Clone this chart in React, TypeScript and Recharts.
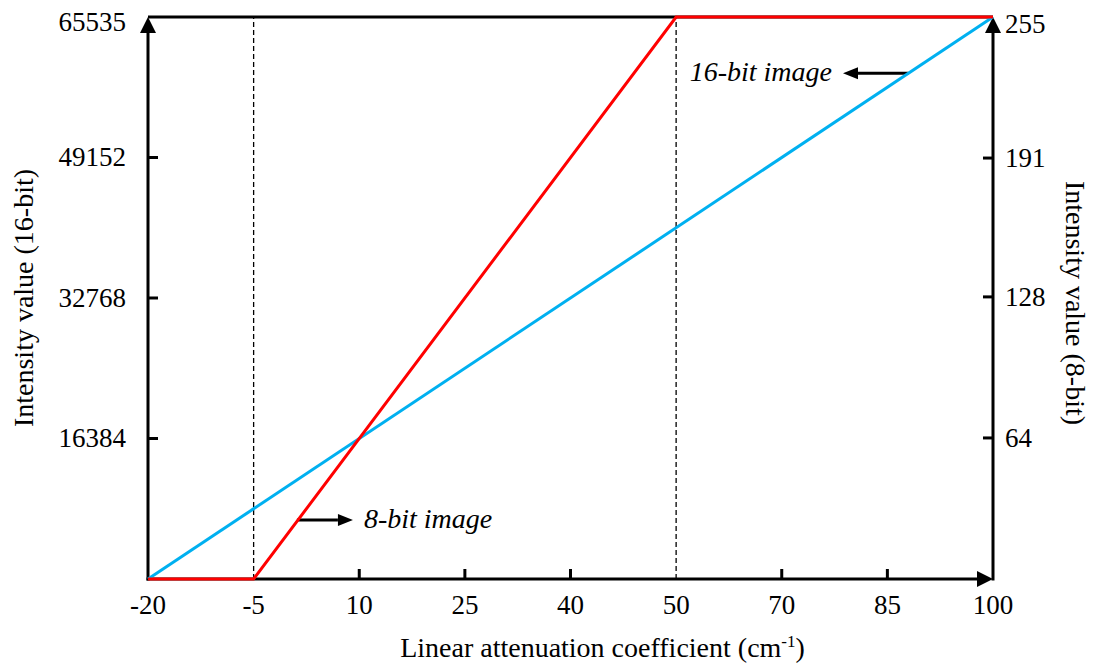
import { Line, LineChart, ReferenceLine, XAxis, YAxis } from 'recharts';

// x tick labels are placed at equal spacing, so points are drawn against their tick index
const xLabels = [-20, -5, 10, 25, 40, 50, 70, 85, 100];
const leftTicks = [16384, 32768, 49152, 65535];
const rightTicks = [64, 128, 191, 255];

// 16-bit window (red, left axis)
const redX = [-20, -5, 50, 100];
const redY = [0, 0, 65535, 65535];
// 8-bit mapping (blue, right axis)
const blueX = [-20, 100];
const blueY = [0, 255];

const windowEdges = [-5, 50];

const FONT = '"Liberation Serif", "Times New Roman", serif';
const noMark = [-20, -5, 50, 100];

function pos(v: number) {
  for (let i = 0; i < xLabels.length - 1; i++) {
    const a = xLabels[i];
    const b = xLabels[i + 1];
    if (v >= a && v <= b) return i + (v - a) / (b - a);
  }
  return 0;
}

const redData = redX.map((x, i) => ({ pos: pos(x), red: redY[i] }));
const blueData = blueX.map((x, i) => ({ pos: pos(x), blue: blueY[i] }));

function XTick({ x, y, payload }: any) {
  const label = xLabels[payload.value];
  return (
    <g>
      {!noMark.includes(label) && (
        <line x1={x} y1={y} x2={x} y2={y - 10} stroke="#000" strokeWidth={3} />
      )}
      <text x={x} y={y + 35} textAnchor="middle" fontFamily={FONT} fontSize={27} fill="#000">
        {label}
      </text>
    </g>
  );
}

function LeftTick({ x, y, payload }: any) {
  const top = payload.value === 65535;
  return (
    <g>
      {!top && <line x1={x} y1={y} x2={x + 10} y2={y} stroke="#000" strokeWidth={3} />}
      <text x={x - 22} y={y + (top ? 14 : 9)} textAnchor="end" fontFamily={FONT} fontSize={27} fill="#000">
        {payload.value}
      </text>
    </g>
  );
}

function RightTick({ x, y, payload }: any) {
  const top = payload.value === 255;
  return (
    <g>
      {!top && <line x1={x} y1={y} x2={x - 10} y2={y} stroke="#000" strokeWidth={3} />}
      <text x={x + 12} y={y + (top ? 16 : 9)} textAnchor="start" fontFamily={FONT} fontSize={27} fill="#000">
        {payload.value}
      </text>
    </g>
  );
}

function ArrowUp(p: any) {
  const x = p.x1;
  const top = Math.min(p.y1, p.y2);
  const bottom = Math.max(p.y1, p.y2);
  return (
    <g>
      <line x1={x} y1={bottom + 1.5} x2={x} y2={top + 12} stroke="#000" strokeWidth={3} />
      <polygon points={`${x},${top} ${x - 8},${top + 16} ${x + 8},${top + 16}`} fill="#000" />
    </g>
  );
}

function ArrowRight(p: any) {
  const y = p.y1;
  const left = Math.min(p.x1, p.x2);
  const right = Math.max(p.x1, p.x2);
  return (
    <g>
      <line x1={left - 1.5} y1={y} x2={right - 12} y2={y} stroke="#000" strokeWidth={3} />
      <polygon points={`${right},${y} ${right - 16},${y - 8} ${right - 16},${y + 8}`} fill="#000" />
    </g>
  );
}

function callout(text: string) {
  return (p: any) => {
    const { x1, y1, x2, y2 } = p;
    const dir = x2 > x1 ? 1 : -1;
    const base = x2 - dir * 15;
    return (
      <g>
        <line x1={x1} y1={y1} x2={base} y2={y2} stroke="#000" strokeWidth={3} />
        <polygon points={`${x2},${y2} ${base},${y2 - 6} ${base},${y2 + 6}`} fill="#000" />
        <text
          x={x2 + dir * 11}
          y={y2 + 8}
          textAnchor={dir > 0 ? 'start' : 'end'}
          fontFamily={FONT}
          fontStyle="italic"
          fontSize={28}
          fill="#000"
        >
          {text}
        </text>
      </g>
    );
  };
}

const leftTitle = (p: any) => {
  const vb = p.viewBox;
  const x = vb.x + 25;
  const y = vb.y + vb.height / 2;
  return (
    <text x={x} y={y} transform={`rotate(-90, ${x}, ${y})`} textAnchor="middle" fontFamily={FONT} fontSize={28} fill="#000">
      Intensity value (16-bit)
    </text>
  );
};

const rightTitle = (p: any) => {
  const vb = p.viewBox;
  const x = vb.x + 73;
  const y = vb.y + vb.height / 2 + 5;
  return (
    <text x={x} y={y} transform={`rotate(90, ${x}, ${y})`} textAnchor="middle" fontFamily={FONT} fontSize={28} fill="#000">
      Intensity value (8-bit)
    </text>
  );
};

const bottomTitle = (p: any) => {
  const vb = p.viewBox;
  return (
    <text x={vb.x + vb.width / 2 + 32} y={vb.y + 78} textAnchor="middle" fontFamily={FONT} fontSize={28} fill="#000">
      Linear attenuation coefficient (cm
      <tspan dy={-10} fontSize={17}>-1</tspan>
      <tspan dy={10}>)</tspan>
    </text>
  );
};

export default function App() {
  return (
    <LineChart width={1088} height={658} margin={{ top: 9, right: 0, bottom: 0, left: 0 }}>
      <XAxis
        type="number"
        dataKey="pos"
        domain={[0, xLabels.length - 1]}
        ticks={xLabels.map((_, i) => i)}
        interval={0}
        axisLine={false}
        tickLine={false}
        tickSize={0}
        tickMargin={0}
        tick={<XTick />}
        height={87}
        label={bottomTitle}
      />
      <YAxis
        yAxisId="left"
        domain={[0, 65535]}
        ticks={leftTicks}
        interval={0}
        axisLine={false}
        tickLine={false}
        tickSize={0}
        tickMargin={0}
        tick={<LeftTick />}
        width={140}
        label={leftTitle}
      />
      <YAxis
        yAxisId="right"
        orientation="right"
        domain={[0, 255]}
        ticks={rightTicks}
        interval={0}
        axisLine={false}
        tickLine={false}
        tickSize={0}
        tickMargin={0}
        tick={<RightTick />}
        width={103}
        label={rightTitle}
      />
      <ReferenceLine yAxisId="left" y={65535} stroke="#000" strokeWidth={3} />
      <ReferenceLine yAxisId="left" x={0} shape={ArrowUp} />
      <ReferenceLine yAxisId="left" x={xLabels.length - 1} shape={ArrowUp} />
      <ReferenceLine yAxisId="left" y={0} shape={ArrowRight} />
      {windowEdges.map((v) => (
        <ReferenceLine key={v} yAxisId="left" x={pos(v)} stroke="#000" strokeWidth={1.3} strokeDasharray="5 3" />
      ))}
      <ReferenceLine
        yAxisId="right"
        segment={[
          { x: 7.2, y: 229.5 },
          { x: 6.58, y: 229.5 },
        ]}
        shape={callout('16-bit image')}
      />
      <ReferenceLine
        yAxisId="left"
        segment={[
          { x: 1.41, y: 6880 },
          { x: 1.94, y: 6880 },
        ]}
        shape={callout('8-bit image')}
      />
      <Line
        data={blueData}
        yAxisId="right"
        dataKey="blue"
        type="linear"
        stroke="#00b0f0"
        strokeWidth={3}
        dot={false}
        isAnimationActive={false}
      />
      <Line
        data={redData}
        yAxisId="left"
        dataKey="red"
        type="linear"
        stroke="#ff0000"
        strokeWidth={3}
        dot={false}
        isAnimationActive={false}
      />
    </LineChart>
  );
}
